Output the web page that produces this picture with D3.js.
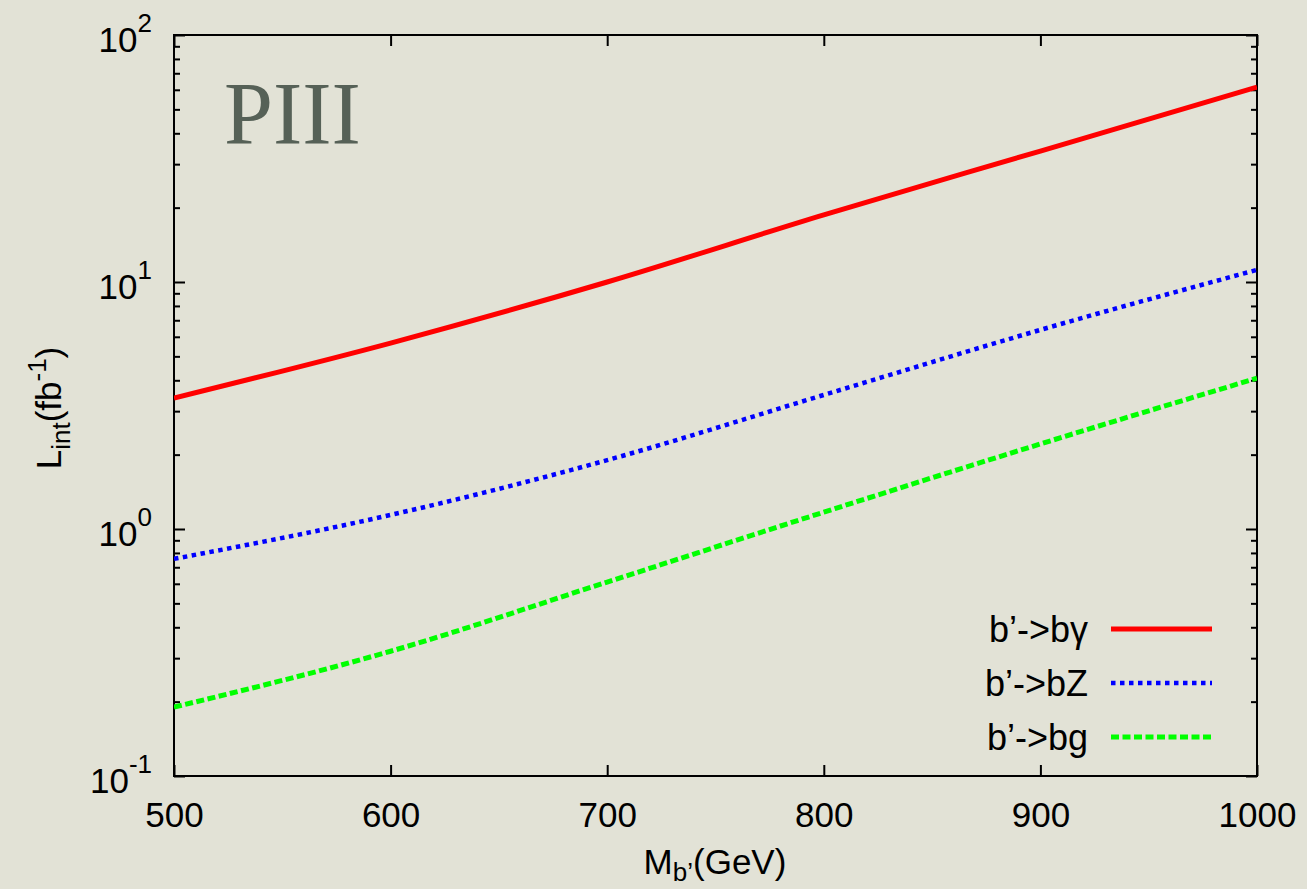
<!DOCTYPE html>
<html>
<head>
<meta charset="UTF-8">
<title>PIII L_int vs M_b'</title>
<script src="https://d3js.org/d3.v7.min.js"></script>
<style>
  body { margin: 0; background: #e2e2d6; }
  svg { display: block; }
  text { font-family: "Liberation Sans", Arial, sans-serif; fill: #000; }
</style>
</head>
<body>
<div id="chart"></div>
<script>
// data
const mass = [500, 600, 700, 800, 900, 1000];
const lumiBgamma = [3.39, 5.66, 10.0, 18.7, 33.9, 61.5];
const lumiBZ = [0.757, 1.14, 1.90, 3.49, 6.4, 11.2];
const lumiBg = [0.19, 0.32, 0.61, 1.17, 2.21, 4.08];

const xTicks = [500, 600, 700, 800, 900, 1000];
const yDecades = [0.1, 1, 10, 100];
const yExponents = ["-1", "0", "1", "2"];
const seriesNames = ["b’->bγ", "b’->bZ", "b’->bg"];

const width = 1307, height = 889;
const plotL = 174, plotR = 1257, plotT = 35, plotB = 776;

const svg = d3.select("#chart").append("svg")
  .attr("width", width).attr("height", height);

svg.append("rect").attr("width", width).attr("height", height).attr("fill", "#e2e2d6");

const x = d3.scaleLinear().domain([500, 1000]).range([plotL, plotR]);
const y = d3.scaleLog().domain([0.1, 100]).range([plotB, plotT]);

// all log ticks (major + minor)
const yAll = [];
yDecades.slice(0, 3).forEach(d => { for (let k = 1; k < 10; k++) yAll.push(d * k); });
yAll.push(100);
const isMajor = v => yDecades.some(d => Math.abs(v - d) < d * 1e-6);

// bottom axis
const gx = svg.append("g").attr("transform", `translate(0,${plotB})`)
  .call(d3.axisBottom(x).tickValues(xTicks).tickFormat(d3.format("d"))
    .tickSizeInner(-11).tickSizeOuter(0).tickPadding(26));
gx.selectAll("text").attr("font-size", 35);

// top axis
svg.append("g").attr("transform", `translate(0,${plotT})`)
  .call(d3.axisTop(x).tickValues(xTicks).tickFormat("").tickSizeInner(-11).tickSizeOuter(0));

// left axis
const gy = svg.append("g").attr("transform", `translate(${plotL},0)`)
  .call(d3.axisLeft(y).tickValues(yAll).tickFormat("").tickSizeInner(-11).tickSizeOuter(0));
gy.selectAll(".tick line").attr("x2", d => isMajor(d) ? 11 : 6);

// right axis
const gr = svg.append("g").attr("transform", `translate(${plotR},0)`)
  .call(d3.axisRight(y).tickValues(yAll).tickFormat("").tickSizeInner(-11).tickSizeOuter(0));
gr.selectAll(".tick line").attr("x2", d => isMajor(d) ? -11 : -6);

svg.selectAll(".domain").remove();
svg.selectAll(".tick line").attr("stroke", "#000").attr("stroke-width", 2);

// y tick labels 10^n
const yl = svg.append("g");
yDecades.forEach((d, i) => {
  const t = yl.append("text")
    .attr("x", plotL - 22).attr("y", y(d) + 17)
    .attr("text-anchor", "end").attr("font-size", 35);
  t.append("tspan").text("10");
  t.append("tspan").attr("font-size", 26).attr("dy", -20).text(yExponents[i]);
});

// frame
svg.append("rect").attr("x", plotL).attr("y", plotT)
  .attr("width", plotR - plotL).attr("height", plotB - plotT)
  .attr("fill", "none").attr("stroke", "#000").attr("stroke-width", 2);

// curves
svg.append("clipPath").attr("id", "clip").append("rect")
  .attr("x", plotL).attr("y", plotT).attr("width", plotR - plotL).attr("height", plotB - plotT);

const line = d3.line().x(d => x(d[0])).y(d => y(d[1])).curve(d3.curveMonotoneX);
const series = [
  { vals: lumiBgamma, color: "#ff0000", width: 5, dash: null },
  { vals: lumiBZ, color: "#0000ff", width: 4.5, dash: "4.5,4.5" },
  { vals: lumiBg, color: "#00ff00", width: 5, dash: "8,3.5" }
];
series.forEach(s => {
  svg.append("path")
    .datum(mass.map((m, i) => [m, s.vals[i]]))
    .attr("clip-path", "url(#clip)")
    .attr("fill", "none")
    .attr("stroke", s.color)
    .attr("stroke-width", s.width)
    .attr("stroke-dasharray", s.dash)
    .attr("d", line);
});

// legend
const legY = [629, 683, 737];
series.forEach((s, i) => {
  svg.append("text").attr("x", 1088).attr("y", legY[i] + 13)
    .attr("text-anchor", "end").attr("font-size", 36).text(seriesNames[i]);
  svg.append("line")
    .attr("x1", 1111).attr("x2", 1212).attr("y1", legY[i]).attr("y2", legY[i])
    .attr("stroke", s.color).attr("stroke-width", s.width)
    .attr("stroke-dasharray", s.dash);
});

// PIII label
svg.append("text").attr("x", 224).attr("y", 143)
  .style("font-family", "'Liberation Serif', 'Times New Roman', serif")
  .attr("font-size", 88).style("fill", "#566157").text("PIII");

// axis titles
const xt = svg.append("text").attr("x", 715).attr("y", 874)
  .attr("text-anchor", "middle").attr("font-size", 35);
xt.append("tspan").text("M");
xt.append("tspan").attr("font-size", 26).attr("dy", 7).text("b’");
xt.append("tspan").attr("dy", -7).text("(GeV)");

const yt = svg.append("text")
  .attr("transform", "translate(61,408) rotate(-90)")
  .attr("text-anchor", "middle").attr("font-size", 35);
yt.append("tspan").text("L");
yt.append("tspan").attr("font-size", 26).attr("dy", 9).text("int");
yt.append("tspan").attr("dy", -9).text("(fb");
yt.append("tspan").attr("font-size", 26).attr("dy", -15).text("-1");
yt.append("tspan").attr("dy", 15).text(")");
</script>
</body>
</html>
